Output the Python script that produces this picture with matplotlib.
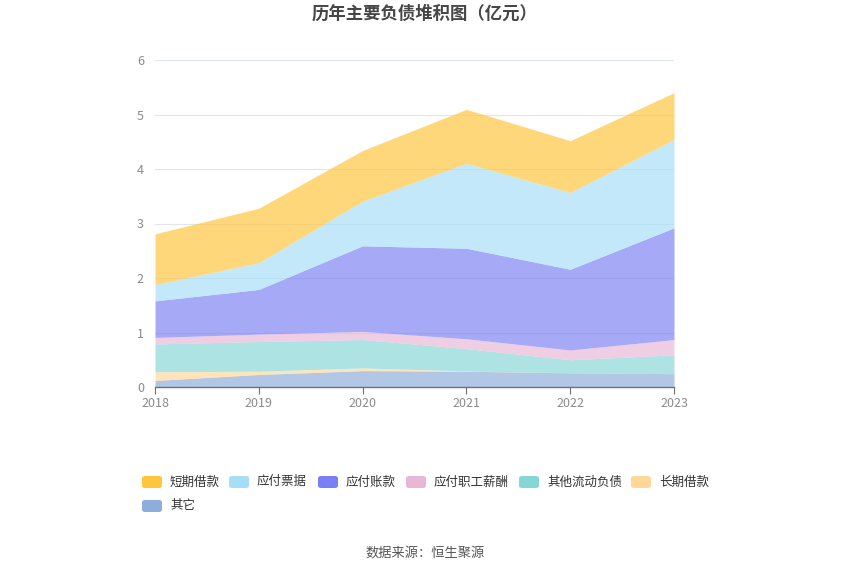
import matplotlib
matplotlib.use("Agg")
import matplotlib.pyplot as plt
import matplotlib.patches as mpatches

plt.rcParams["font.family"] = ["Noto Sans CJK SC", "DejaVu Sans"]

years = ["2018", "2019", "2020", "2021", "2022", "2023"]
other = [0.12, 0.23, 0.30, 0.29, 0.26, 0.245]
long_loan = [0.16, 0.06, 0.05, 0.005, 0.0, 0.0]
other_current = [0.51, 0.545, 0.52, 0.41, 0.24, 0.345]
payroll = [0.12, 0.135, 0.15, 0.18, 0.18, 0.28]
payable = [0.67, 0.82, 1.57, 1.66, 1.48, 2.05]
notes = [0.30, 0.49, 0.82, 1.56, 1.41, 1.62]
short_loan = [0.93, 1.00, 0.93, 0.99, 0.95, 0.86]

# stacking order: bottom first
series = [
    ("其它", other, "#8EADDB"),
    ("长期借款", long_loan, "#FFD898"),
    ("其他流动负债", other_current, "#86D6D6"),
    ("应付职工薪酬", payroll, "#E8B6D6"),
    ("应付账款", payable, "#7A80F3"),
    ("应付票据", notes, "#A6DEF8"),
    ("短期借款", short_loan, "#FFC53D"),
]
legend_order = ["短期借款", "应付票据", "应付账款", "应付职工薪酬", "其他流动负债", "长期借款", "其它"]

W, H = 850, 574
fig = plt.figure(figsize=(W / 100, H / 100), dpi=100)
fig.patch.set_facecolor("white")
ax = fig.add_axes([155 / W, 1 - 387 / H, (674 - 155) / W, (387 - 60) / H])

x = list(range(len(years)))
base = [0.0] * len(years)
colors = {}
for name, vals, col in series:
    top = [b + v for b, v in zip(base, vals)]
    ax.fill_between(x, base, top, color=col, alpha=0.68, linewidth=0, zorder=2)
    base = top
    colors[name] = col

ax.set_xlim(0, len(years) - 1)
ax.set_ylim(0, 6)
ax.set_yticks(range(7))
ax.set_xticks(x)
ax.set_xticklabels(years)
ax.grid(axis="y", color="#E0E6F1", linewidth=0.8, zorder=0)
ax.set_axisbelow(True)
for s in ["top", "right", "left"]:
    ax.spines[s].set_visible(False)
ax.spines["bottom"].set_color("#6E7079")
ax.spines["bottom"].set_linewidth(1)
ax.tick_params(axis="y", length=0, labelsize=9, labelcolor="#8A8A8A", pad=8)
ax.tick_params(axis="x", length=5, color="#6E7079", labelsize=9, labelcolor="#8A8A8A", pad=2)

fig.text(0.5, 1 - 14 / H, "历年主要负债堆积图（亿元）", ha="center", va="center",
         fontsize=12.5, fontweight="bold", color="#464646")

# legend drawn by hand so it wraps like the original
legend_pos = [(142, 482), (229, 482), (318, 482), (406, 482), (519, 482), (631, 482), (142, 506)]
for name, (px, py) in zip(legend_order, legend_pos):
    sw = mpatches.FancyBboxPatch((px / W, 1 - (py + 6) / H), 20 / W, 12 / H,
                                 boxstyle="round,pad=0,rounding_size=0.004",
                                 transform=fig.transFigure, facecolor=colors[name],
                                 edgecolor="none")
    fig.patches.append(sw)
    fig.text((px + 28) / W, 1 - py / H, name, ha="left", va="center",
             fontsize=9, color="#333333")

fig.text(0.5, 1 - 553 / H, "数据来源：恒生聚源", ha="center", va="center",
         fontsize=9.5, color="#555555")

fig.savefig("out.png", dpi=100, facecolor="white")
